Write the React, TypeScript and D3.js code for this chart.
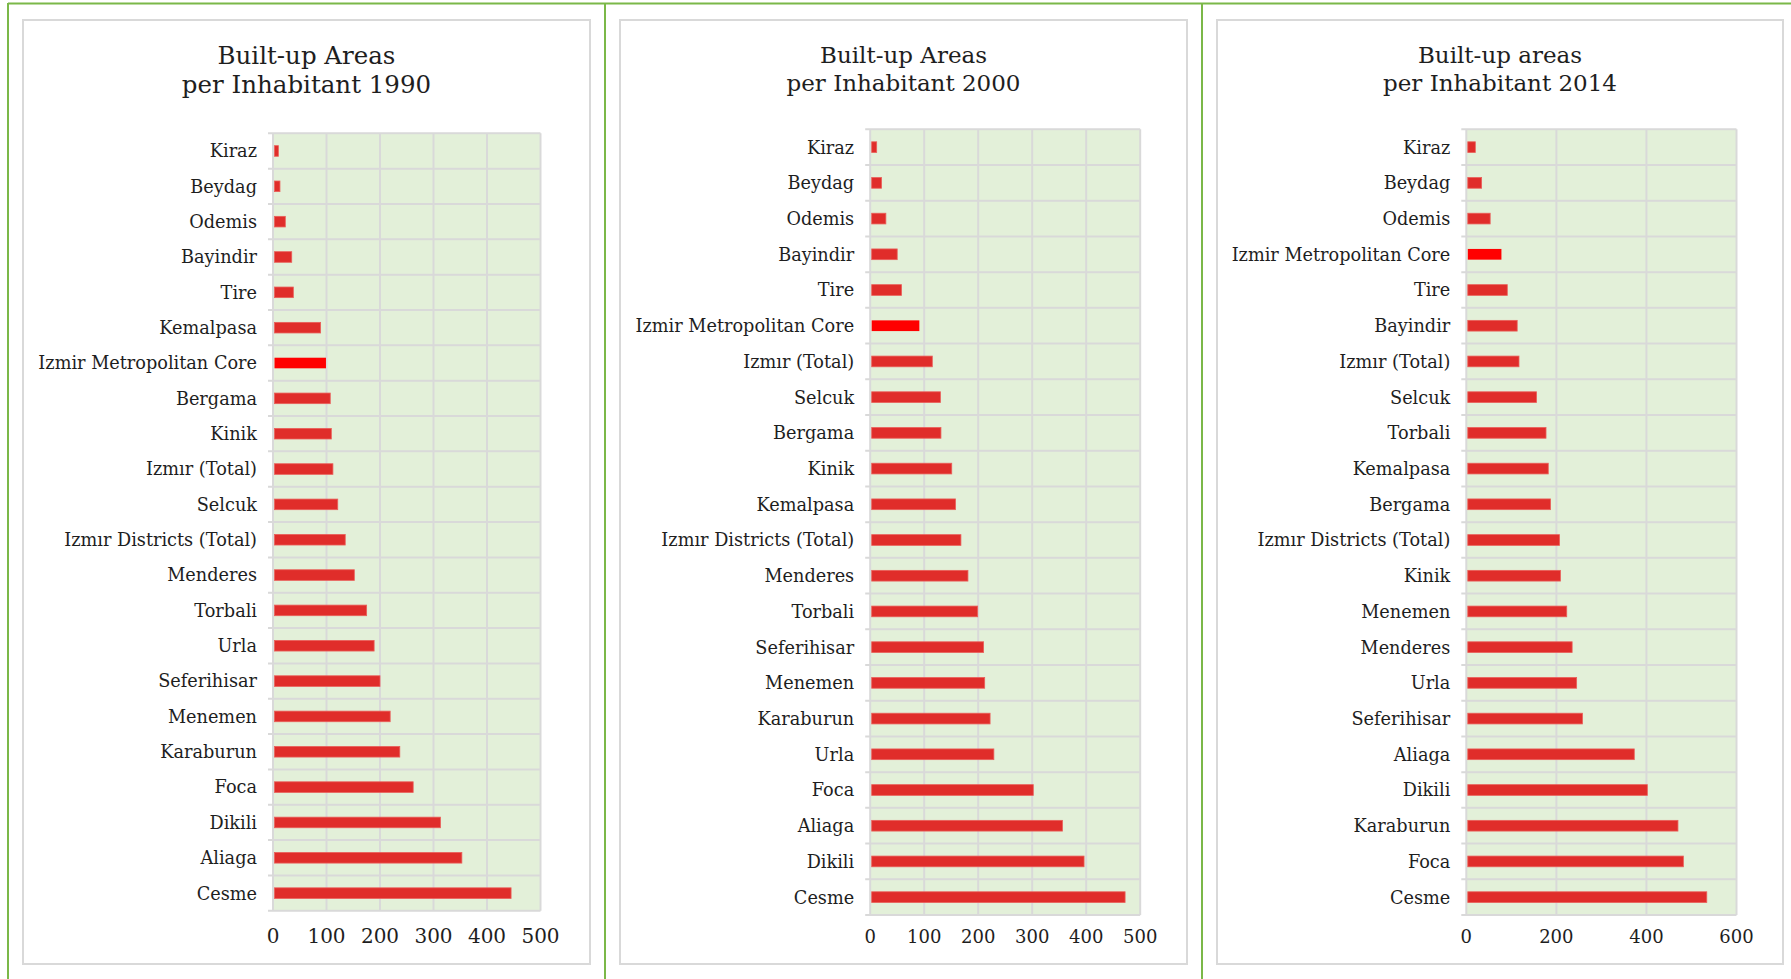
import React from "react";
import * as d3 from "d3";

const categories1990 = ["Kiraz","Beydag","Odemis","Bayindir","Tire","Kemalpasa","Izmir Metropolitan Core","Bergama","Kinik","Izmır (Total)","Selcuk","Izmır Districts (Total)","Menderes","Torbali","Urla","Seferihisar","Menemen","Karaburun","Foca","Dikili","Aliaga","Cesme"];
const values1990 = [10,13,23,35,38,89,99,107,109,112,121,135,152,175,189,200,219,237,262,313,353,445];

const categories2000 = ["Kiraz","Beydag","Odemis","Bayindir","Tire","Izmir Metropolitan Core","Izmır (Total)","Selcuk","Bergama","Kinik","Kemalpasa","Izmır Districts (Total)","Menderes","Torbali","Seferihisar","Menemen","Karaburun","Urla","Foca","Aliaga","Dikili","Cesme"];
const values2000 = [12,21,29,50,58,91,115,130,131,151,158,168,181,199,210,212,222,229,302,356,396,472];

const categories2014 = ["Kiraz","Beydag","Odemis","Izmir Metropolitan Core","Tire","Bayindir","Izmır (Total)","Selcuk","Torbali","Kemalpasa","Bergama","Izmır Districts (Total)","Kinik","Menemen","Menderes","Urla","Seferihisar","Aliaga","Dikili","Karaburun","Foca","Cesme"];
const values2014 = [20,34,53,78,91,113,117,156,177,182,187,207,209,223,235,245,258,373,402,470,482,534];

const ticks1990 = [0,100,200,300,400,500];
const ticks2000 = [0,100,200,300,400,500];
const ticks2014 = [0,200,400,600];

const titles1990 = ["Built-up Areas","per Inhabitant 1990"];
const titles2000 = ["Built-up Areas","per Inhabitant 2000"];
const titles2014 = ["Built-up areas","per Inhabitant 2014"];

const HIGHLIGHT = "Izmir Metropolitan Core";
const FONT = "'DejaVu Serif', serif";

type PanelProps = {
  cats: string[];
  vals: number[];
  ticks: number[];
  title: string[];
  box: { x: number; y: number; w: number; h: number };
  plot: { x: number; y: number; w: number; h: number };
  titleSize: number;
  titleBase: [number, number];
  tickSize: number;
};

function Panel(p: PanelProps) {
  const { cats, vals, ticks, title, box, plot } = p;
  const x = d3.scaleLinear().domain([0, ticks[ticks.length - 1]]).range([plot.x, plot.x + plot.w]);
  const y = d3.scaleBand<string>().domain(cats).range([plot.y, plot.y + plot.h]).paddingInner(0.7).paddingOuter(0.35);
  const step = y.step();
  const bounds = d3.range(cats.length + 1).map((i) => plot.y + i * step);
  const cx = box.x + box.w / 2;
  return (
    <g>
      <rect x={box.x} y={box.y} width={box.w} height={box.h} fill="#fff" stroke="#d9d9d9" strokeWidth={2} />
      {title.map((t, i) => (
        <text key={i} x={cx} y={p.titleBase[i]} textAnchor="middle" fontFamily={FONT} fontSize={p.titleSize} fill="#1e1e1e">{t}</text>
      ))}
      <rect x={plot.x} y={plot.y} width={plot.w} height={plot.h} fill="#e3f0d9" />
      {ticks.map((t) => (
        <line key={"v" + t} x1={x(t)} x2={x(t)} y1={plot.y} y2={plot.y + plot.h} stroke="#d9d9d9" strokeWidth={2} />
      ))}
      {bounds.map((b, i) => (
        <line key={"h" + i} x1={plot.x - 5} x2={plot.x + plot.w} y1={b} y2={b} stroke="#d9d9d9" strokeWidth={2} />
      ))}
      {cats.map((c, i) => (
        <rect key={"b" + c} x={x(0) + 1.5} y={y(c)!} width={x(vals[i]) - x(0) - 1.5} height={y.bandwidth()}
          fill={c === HIGHLIGHT ? "#ff0000" : "#e02d2a"} stroke={c === HIGHLIGHT ? "none" : "#ea5f5a"} strokeWidth={0.8} />
      ))}
      {cats.map((c) => (
        <text key={"l" + c} x={plot.x - 16} y={y(c)! + y.bandwidth() / 2} dy="0.36em" textAnchor="end" fontFamily={FONT} fontSize={17.7} fill="#1e1e1e">{c}</text>
      ))}
      {ticks.map((t) => (
        <text key={"t" + t} x={x(t)} y={943} textAnchor="middle" fontFamily={FONT} fontSize={p.tickSize} fill="#1e1e1e">{t}</text>
      ))}
    </g>
  );
}

export default function App() {
  const green = "#7bb848";
  return (
    <div style={{ position: "absolute", left: 0, top: 0 }}>
      <svg width={1791} height={979} style={{ display: "block", background: "#fff" }}>
        <Panel cats={categories1990} vals={values1990} ticks={ticks1990} title={titles1990}
          box={{ x: 23, y: 20, w: 567, h: 944 }} plot={{ x: 273, y: 133.3, w: 267.5, h: 777.5 }}
          titleSize={24.5} titleBase={[64.3, 93.3]} tickSize={20} />
        <Panel cats={categories2000} vals={values2000} ticks={ticks2000} title={titles2000}
          box={{ x: 620, y: 20, w: 567, h: 944 }} plot={{ x: 870.2, y: 129.3, w: 270, h: 785.7 }}
          titleSize={23} titleBase={[63.3, 91.3]} tickSize={18} />
        <Panel cats={categories2014} vals={values2014} ticks={ticks2014} title={titles2014}
          box={{ x: 1217, y: 20, w: 566, h: 944 }} plot={{ x: 1466.3, y: 129.3, w: 270.2, h: 785.7 }}
          titleSize={23} titleBase={[63.3, 91.3]} tickSize={18} />
        <line x1={8} x2={1791} y1={3.5} y2={3.5} stroke={green} strokeWidth={2} />
        <line x1={8} x2={8} y1={3} y2={979} stroke={green} strokeWidth={2} />
        <line x1={605} x2={605} y1={3} y2={979} stroke={green} strokeWidth={2} />
        <line x1={1202} x2={1202} y1={3} y2={979} stroke={green} strokeWidth={2} />
      </svg>
    </div>
  );
}
